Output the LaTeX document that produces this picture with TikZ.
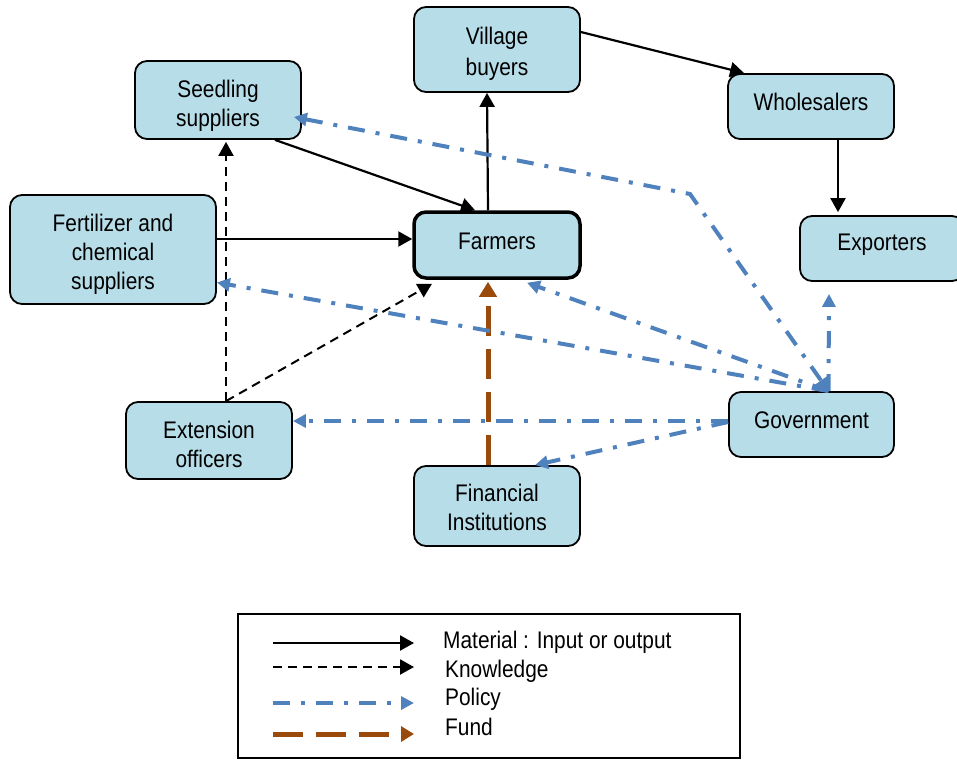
\documentclass[tikz,border=0pt]{standalone}
\usepackage{fontspec}
\setmainfont{Liberation Sans}[FakeStretch=0.87]
\usetikzlibrary{arrows.meta,calc}
\definecolor{boxfill}{HTML}{B7DDE8}
\definecolor{policyblue}{HTML}{4F81BD}
\definecolor{fundbrown}{HTML}{9A4A0B}

\begin{document}
\begin{tikzpicture}[x=1pt,y=-1pt,
  box/.style={draw=black, line width=1.8pt, fill=boxfill, rounded corners=12pt,
    inner sep=0pt},
  boxtext/.style={inner sep=0pt, align=center, font=\fontsize{24}{29}\selectfont},
  material/.style={draw=black, line width=2.2pt, -{Triangle[length=14pt,width=15pt]}},
  knowledge/.style={draw=black, line width=2pt, dash pattern=on 9pt off 6pt,
    -{Triangle[length=14pt,width=15pt]}},
  policy/.style={draw=policyblue, line width=4pt,
    dash pattern=on 17pt off 11pt on 4pt off 11pt,
    -{Triangle[length=13pt,width=13pt]}},
  fund/.style={draw=fundbrown, line width=5pt, dash pattern=on 30pt off 13pt,
    -{Triangle[length=15pt,width=17pt]}},
  legtext/.style={anchor=base west, inner sep=0pt, font=\fontsize{24}{29}\selectfont}]

\clip (0,0) rectangle (957,760);

% actors (frames)
\node[box, minimum width=166pt, minimum height=78pt]  (seed)    at (218,100)   {};
\node[box, minimum width=206pt, minimum height=109pt] (fert)    at (113,249.5) {};
\node[box, minimum width=166pt, minimum height=85pt]  (village) at (497,49.5)  {};
\node[box, line width=3.5pt, minimum width=166pt, minimum height=66pt] (farm) at (497,245) {};
\node[box, minimum width=166pt, minimum height=65pt]  (whole)   at (811,106.5) {};
\node[box, minimum width=164pt, minimum height=65pt]  (export)  at (882,248.5) {};
\node[box, minimum width=165pt, minimum height=65pt]  (gov)     at (811.5,424.5) {};
\node[box, minimum width=166pt, minimum height=77pt]  (ext)     at (209,440.5) {};
\node[box, minimum width=166pt, minimum height=80pt]  (fin)     at (497,506)   {};

% actor names
\node[boxtext] (seedT)    at ([yshift=-6pt]seed.center)    {Seedling\\suppliers};
\node[boxtext] (fertT)    at ([yshift=-5pt]fert.center)    {Fertilizer and\\chemical\\suppliers};
\node[boxtext, font=\fontsize{24}{31}\selectfont] (villageT) at ([yshift=-4pt]village.center) {Village\\buyers};
\node[boxtext] (farmT)    at ([yshift=4pt]farm.center)     {Farmers};
\node[boxtext] (wholeT)   at ([yshift=5pt]whole.center)    {Wholesalers};
\node[boxtext] (exportT)  at ([yshift=4pt]export.center)   {Exporters};
\node[boxtext] (govT)     at ([yshift=4pt]gov.center)      {Government};
\node[boxtext] (extT)     at ([yshift=-4pt]ext.center)     {Extension\\officers};
\node[boxtext] (finT)     at ([yshift=-1.5pt]fin.center)   {Financial\\Institutions};

\coordinate (bend) at (690,194);

% material flows
\draw[material] ([xshift=57pt]seed.south) -- ([xshift=-22pt]farm.north);
\draw[material] ([yshift=10.5pt]fert.east) -- ([yshift=6pt]farm.west);
\draw[material] ([xshift=-9pt]farm.north) -- ([xshift=-10pt]village.south);
\draw[material] ([yshift=17.5pt]village.east) -- ([xshift=17pt]whole.north west);
\draw[material] ([xshift=27pt]whole.south) -- ([xshift=-44pt,yshift=3pt]export.north);

% knowledge flows
\draw[knowledge] ([xshift=17pt]ext.north) -- ([xshift=8pt,yshift=-2pt]seed.south);
\draw[knowledge] ([xshift=17pt]ext.north) -- ([xshift=-65pt,yshift=-4pt]farm.south);

% fund flow
\draw[fund] ([xshift=-9pt]fin.north) -- ([xshift=-9pt,yshift=-2pt]farm.south);

% policy flows
\draw[policy, {Triangle[length=13pt,width=13pt]}-{Triangle[length=13pt,width=13pt]}]
  ([xshift=-8pt,yshift=-17pt]seed.east) -- (bend) -- ([xshift=17pt]gov.north);
\draw[policy] ([xshift=17pt]gov.north) -- ([yshift=-33pt]fert.east);
\draw[policy] ([xshift=17pt]gov.north) -- ([xshift=30pt,yshift=-3pt]farm.south);
\draw[policy] ([xshift=17pt]gov.north) -- ([xshift=-53pt,yshift=-12pt]export.south);
\draw[policy] ([yshift=3.5pt]gov.west) -- ([yshift=19.5pt]ext.east);
\draw[policy] ([yshift=2.5pt]gov.west) -- ([xshift=38pt]fin.north);

% legend
\node[draw=black, line width=1.8pt, minimum width=502pt, minimum height=144pt, inner sep=0pt]
  (legend) at (489,686) {};
\coordinate (m0) at (273,643); \coordinate (m1) at (414,643);
\coordinate (k0) at (273,667); \coordinate (k1) at (414,667);
\coordinate (p0) at (273,703); \coordinate (p1) at (414,703);
\coordinate (f0) at (273,734); \coordinate (f1) at (414,734);
\draw[material]  (m0) -- (m1);
\draw[knowledge] (k0) -- (k1);
\draw[policy]    (p0) -- (p1);
\draw[fund, -{Triangle[length=13pt,width=15pt]}] (f0) -- (f1);
\node[legtext] (lm) at (443,648) {Material : Input or output};
\node[legtext] (lk) at (445,677) {Knowledge};
\node[legtext] (lp) at (445,705) {Policy};
\node[legtext] (lf) at (445,735) {Fund};
\end{tikzpicture}
\end{document}
